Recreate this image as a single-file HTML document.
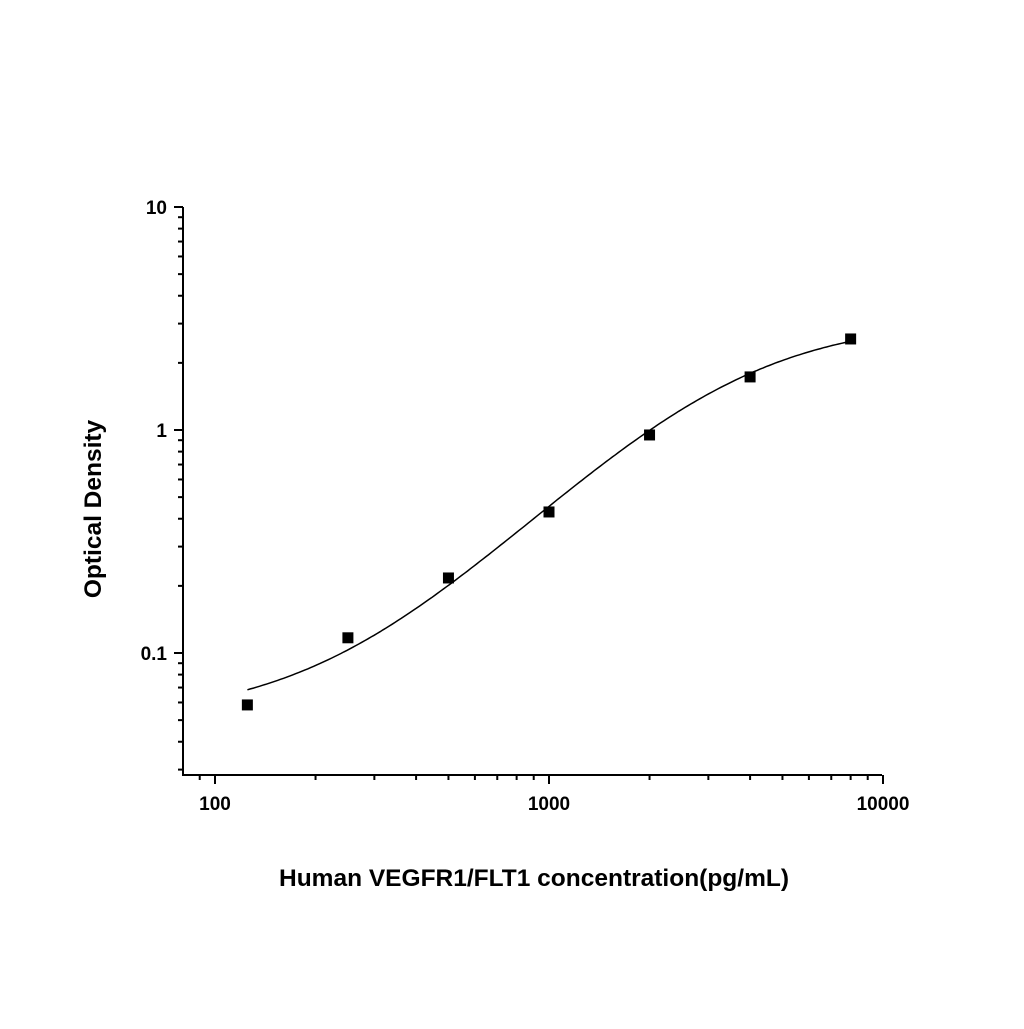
<!DOCTYPE html>
<html><head><meta charset="utf-8"><style>
body{margin:0;background:#fff}
text{font-family:"Liberation Sans",Arial,sans-serif;font-weight:bold;fill:#000}
</style></head><body>
<svg id="chart" width="1024" height="1024" viewBox="0 0 1024 1024" xmlns="http://www.w3.org/2000/svg">
<rect width="1024" height="1024" fill="#fff"/>
<g id="axes"></g><g id="curve"></g><g id="points"></g>
<text x="534" y="886" font-size="24.5" text-anchor="middle">Human VEGFR1/FLT1 concentration(pg/mL)</text>
<text transform="translate(101,509) rotate(-90)" font-size="24.5" text-anchor="middle">Optical Density</text>
</svg>
<script>
const concentrations=[125,250,500,1000,2000,4000,8000];
const odValues=[0.0585,0.117,0.217,0.429,0.95,1.73,2.56];
const xTickLabels=["100","1000","10000"];
const yTickLabels=["0.1","1","10"];
const fitParams=[0.05,1.55,3400,3.15];
const NS="http://www.w3.org/2000/svg";
const X0=183,X1=882,Y0=775,Y1=207;
function xs(v){return 549+334*Math.log10(v/1000);}
function ys(v){return 430-223*Math.log10(v);}
function mk(t,a,p){const e=document.createElementNS(NS,t);for(const k in a)e.setAttribute(k,a[k]);p.appendChild(e);return e;}
const ax=document.getElementById('axes');
const yl=mk('line',{x1:X0,y1:Y1,x2:X0,y2:Y0,stroke:'#000','stroke-width':2},ax);


const xl=mk('line',{x1:X0-1,y1:Y0,x2:X1,y2:Y0,stroke:'#000','stroke-width':2},ax);


for(let d=-2;d<=1;d++){for(let m=1;m<=9;m++){const v=m*Math.pow(10,d);const y=ys(v);if(y<Y1-1||y>Y0)continue;
const t=mk('line',{x1:X0,x2:X0-(m==1?9:5),y1:y,y2:y,stroke:'#000','stroke-width':2},ax);

}}
yTickLabels.forEach(s=>{const t=mk('text',{x:X0-16,y:ys(parseFloat(s))+7,'font-size':19,'text-anchor':'end'},ax);t.textContent=s;

});
for(let d=1;d<=4;d++){for(let m=1;m<=9;m++){const v=m*Math.pow(10,d);const x=xs(v);if(x<X0||x>X1+1)continue;
const t=mk('line',{x1:x,x2:x,y1:Y0,y2:Y0+(m==1?9:5),stroke:'#000','stroke-width':2},ax);

}}
xTickLabels.forEach(s=>{const t=mk('text',{x:xs(parseFloat(s)),y:Y0+35,'font-size':19,'text-anchor':'middle'},ax);t.textContent=s;

});
const [a,b,c,d]=fitParams;
let pts=[];for(let i=0;i<=200;i++){const lx=Math.log10(125)+(Math.log10(8000)-Math.log10(125))*i/200;const x=Math.pow(10,lx);
const y=d+(a-d)/(1+Math.pow(x/c,b));pts.push(xs(x).toFixed(1)+','+ys(y).toFixed(1));}
const cv=mk('polyline',{points:pts.join(' '),fill:'none',stroke:'#000','stroke-width':1.5},document.getElementById('curve'));


const pg=document.getElementById('points');
concentrations.forEach((cx,i)=>{const r=mk('rect',{x:xs(cx)-5.5,y:ys(odValues[i])-5.5,width:11,height:11,fill:'#000'},pg);

});
</script>
</body></html>
